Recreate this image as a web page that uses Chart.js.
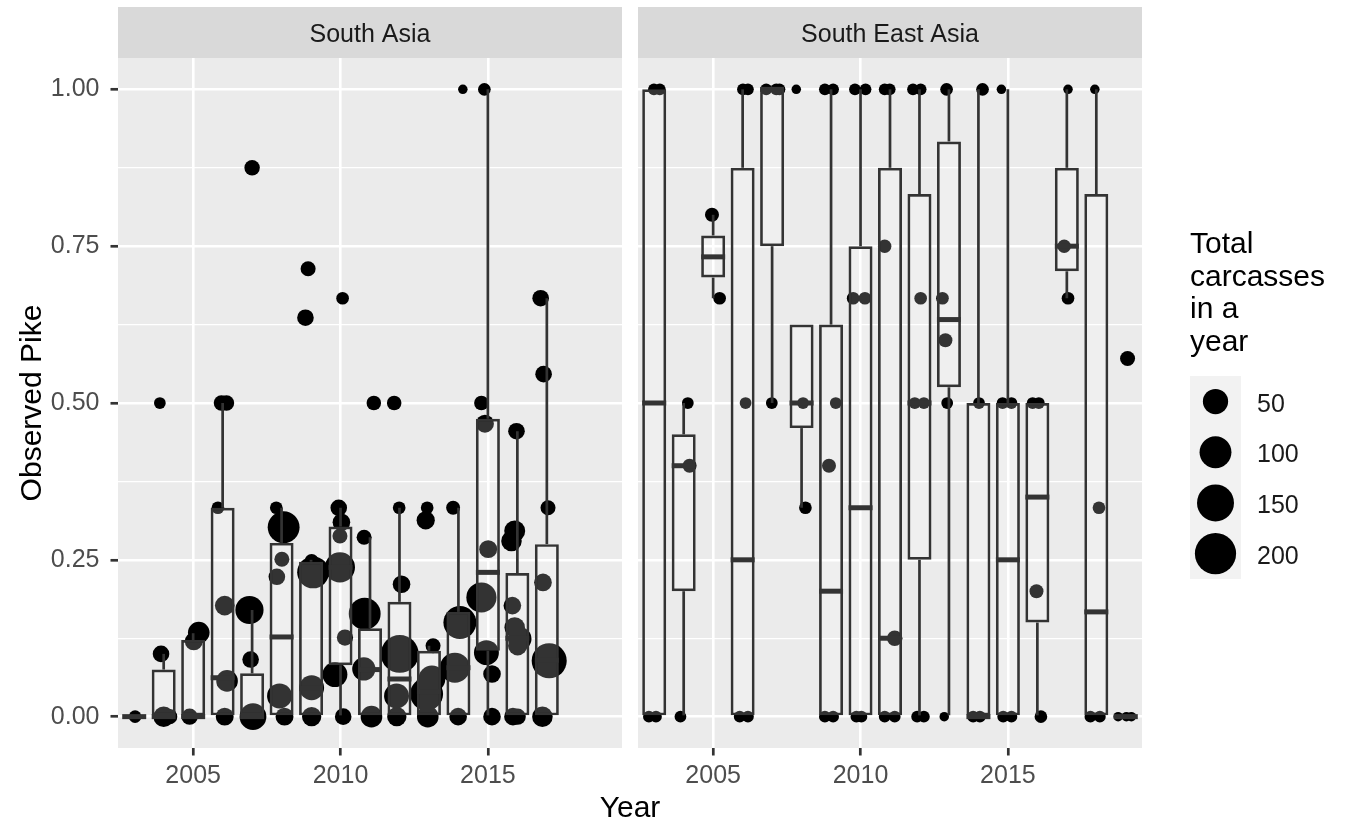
<!DOCTYPE html>
<html>
<head>
<meta charset="utf-8">
<script src="https://cdn.jsdelivr.net/npm/chart.js@4.4.1/dist/chart.umd.min.js"></script>
<style>
  body { margin: 0; background: #ffffff; }
  #wrap { position: relative; width: 1354px; height: 825px; }
  canvas { position: absolute; left: 0; top: 0; }
</style>
</head>
<body>
<div id="wrap">
  <canvas id="chartSouth" width="1354" height="825"></canvas>
  <canvas id="chartSouthEast" width="1354" height="825"></canvas>
</div>
<script>
// axis ticks
const yearTicks = [2005, 2010, 2015];
const valueTicks = [0, 0.25, 0.5, 0.75, 1];
const minorTicks = [0.125, 0.375, 0.625, 0.875];

// South Asia boxes
const saYears = [2003, 2004, 2005, 2006, 2007, 2008, 2009, 2010, 2011, 2012, 2013, 2014, 2015, 2016, 2017];
const saLower = [0, 0, 0, 0, 0, 0, 0, 0, 0, 0, 0, 0, 0, 0, 0];
const saQ1 = [0, 0, 0, 0, 0, 0, 0, 0.082, 0, 0, 0, 0, 0.105, 0, 0];
const saMedian = [0, 0, 0, 0.062, 0, 0.127, 0.045, 0.238, 0.075, 0.06, 0.04, 0.078, 0.23, 0.125, 0.09];
const saQ3 = [0, 0.075, 0.122, 0.333, 0.069, 0.277, 0.247, 0.303, 0.141, 0.183, 0.105, 0.167, 0.475, 0.229, 0.275];
const saUpper = [0, 0.1, 0.133, 0.5, 0.17, 0.333, 0.25, 0.333, 0.286, 0.333, 0.113, 0.333, 1, 0.455, 0.667];

// South Asia points (jittered year, value, total carcasses)
const saPointYear = [
  2003.03,
  2003.87, 2003.91, 2004.0, 2004.2,
  2004.88, 2005.02, 2005.19,
  2005.84, 2005.96, 2006.13, 2006.07, 2006.15, 2006.07,
  2007.0, 2006.91, 2006.95, 2007.03,
  2007.82, 2008.07, 2008.01, 2007.84, 2007.93, 2008.10,
  2008.90, 2008.81, 2009.02, 2009.07, 2009.02, 2009.02,
  2010.07, 2009.94, 2010.03, 2009.98, 2009.98, 2010.15, 2009.81, 2010.09,
  2011.13, 2010.80, 2010.82, 2010.79, 2011.05,
  2011.82, 2011.99, 2012.07, 2012.01, 2011.90, 2011.91,
  2012.94, 2012.89, 2013.14, 2012.92, 2013.10, 2012.96,
  2014.15, 2013.82, 2014.05, 2013.88, 2013.99,
  2014.88, 2014.78, 2014.90, 2015.01, 2014.78, 2014.95, 2015.14, 2015.14,
  2015.97, 2015.91, 2015.80, 2015.83, 2015.91, 2016.08, 2016.01, 2015.85, 2016.01,
  2016.79, 2016.89, 2017.04, 2016.87, 2017.08, 2016.85
];
const saPointValue = [
  0,
  0.5, 0.1, 0, 0,
  0, 0.12, 0.134,
  0.333, 0.5, 0.5, 0.177, 0.057, 0,
  0.875, 0.17, 0.091, 0,
  0.333, 0.302, 0.251, 0.223, 0.033, 0,
  0.714, 0.636, 0.248, 0.23, 0.046, 0,
  0.667, 0.333, 0.31, 0.288, 0.238, 0.126, 0.067, 0,
  0.5, 0.286, 0.164, 0.076, 0,
  0.5, 0.333, 0.211, 0.1, 0.033, 0,
  0.333, 0.313, 0.113, 0.036, 0.06, 0,
  1, 0.333, 0.15, 0.078, 0,
  1, 0.5, 0.467, 0.267, 0.19, 0.102, 0.068, 0,
  0.455, 0.296, 0.28, 0.177, 0.142, 0.124, 0.113, 0, 0,
  0.667, 0.546, 0.333, 0.214, 0.089, 0
];
const saPointTotal = [
  3,
  2, 11, 25, 8,
  10, 15, 30,
  3, 8, 8, 21, 30, 15,
  8, 70, 11, 60,
  3, 100, 7, 11, 48, 15,
  7, 11, 5, 100, 48, 20,
  3, 11, 14, 7, 85, 10, 48, 11,
  6, 7, 100, 38, 30,
  6, 3, 14, 160, 48, 20,
  3, 16, 7, 110, 60, 30,
  1, 5, 110, 85, 14,
  3, 6, 15, 15, 85, 48, 14, 14,
  11, 27, 25, 14, 25, 40, 20, 14, 10,
  11, 11, 7, 14, 130, 25
];

// South East Asia boxes
const seaYears = [2003, 2004, 2005, 2006, 2007, 2008, 2009, 2010, 2011, 2012, 2013, 2014, 2015, 2016, 2017, 2018, 2019];
const seaLower = [0, 0, 0.667, 0, 0.5, 0.333, 0, 0, 0, 0, 0, 0, 0, 0, 0.667, 0, 0];
const seaQ1 = [0, 0.2, 0.7, 0, 0.75, 0.46, 0, 0, 0, 0.25, 0.525, 0, 0, 0.15, 0.71, 0, 0];
const seaMedian = [0.5, 0.4, 0.733, 0.25, 1, 0.5, 0.2, 0.333, 0.125, 0.5, 0.633, 0, 0.25, 0.35, 0.75, 0.167, 0];
const seaQ3 = [1, 0.45, 0.767, 0.875, 1, 0.625, 0.625, 0.75, 0.875, 0.833, 0.917, 0.5, 0.5, 0.5, 0.875, 0.833, 0];
const seaUpper = [1, 0.5, 0.8, 1, 1, 0.625, 1, 1, 1, 1, 1, 1, 1, 0.5, 1, 1, 0];

// South East Asia points
const seaPointYear = [
  2002.99, 2003.19, 2002.82, 2003.06,
  2004.14, 2004.20, 2003.89,
  2004.96, 2005.22,
  2006.01, 2006.18, 2006.10, 2005.90, 2006.18,
  2006.80, 2007.14, 2007.25, 2006.99,
  2007.82, 2008.05, 2008.13,
  2008.79, 2009.07, 2009.16, 2008.93, 2008.79, 2009.07,
  2009.81, 2010.17, 2009.75, 2010.15, 2009.86, 2010.03,
  2010.82, 2010.99, 2010.82, 2011.16, 2010.82, 2011.16,
  2011.78, 2012.04, 2012.04, 2011.84, 2012.15, 2011.92, 2012.15,
  2012.92, 2012.78, 2012.88, 2012.94, 2012.84,
  2014.14, 2014.02, 2013.82, 2014.05,
  2014.78, 2014.82, 2015.12, 2014.84, 2015.12,
  2015.84, 2016.05, 2015.97, 2016.12,
  2017.04, 2016.91, 2017.04,
  2017.95, 2018.09, 2017.80, 2018.12,
  2019.06, 2018.74, 2019.02, 2019.19
];
const seaPointValue = [
  1, 1, 0, 0,
  0.5, 0.4, 0,
  0.8, 0.667,
  1, 1, 0.5, 0, 0,
  1, 1, 1, 0.5,
  1, 0.5, 0.333,
  1, 1, 0.5, 0.4, 0, 0,
  1, 1, 0.667, 0.667, 0, 0,
  1, 1, 0.75, 0.125, 0, 0,
  1, 1, 0.667, 0.5, 0.5, 0, 0,
  1, 0.667, 0.6, 0.5, 0,
  1, 0.5, 0, 0,
  1, 0.5, 0.5, 0, 0,
  0.5, 0.5, 0.2, 0,
  1, 0.75, 0.667,
  1, 0.333, 0, 0,
  0.571, 0, 0, 0
];
const seaPointTotal = [
  2, 2, 2, 2,
  2, 5, 2,
  5, 3,
  2, 2, 2, 2, 2,
  2, 2, 2, 2,
  1, 2, 3,
  2, 2, 2, 5, 2, 2,
  2, 2, 3, 3, 2, 2,
  2, 2, 4, 8, 2, 2,
  2, 2, 3, 2, 2, 2, 2,
  3, 3, 5, 2, 1,
  3, 2, 2, 2,
  1, 2, 2, 2, 2,
  2, 2, 5, 3,
  1, 4, 3,
  1, 3, 2, 2,
  7, 1, 1, 1
];

// legend
const legendTitle = ["Total", "carcasses", "in a", "year"];
const legendTotals = [50, 100, 150, 200];

const FONT = '"Liberation Sans", Arial, Helvetica, sans-serif';
const DARK = "#333333";

// size scale: point diameter grows with sqrt of the total
function radiusFor(n) {
    return (9.5 + 2.25 * Math.sqrt(Math.max(n - 1, 0))) / 2;
}

function buildDatasets(years, lower, q1, median, q3, upper, px, py, pn) {
    return [
        {
            type: "scatter",
            data: px.map((x, i) => ({ x: x, y: py[i], n: pn[i] })),
            pointRadius: ctx => radiusFor(ctx.raw.n),
            pointBackgroundColor: "#000000",
            pointBorderWidth: 0,
            order: 4
        },
        {
            type: "bar",
            data: years.map((x, i) => ({ x: x, y: [q3[i], upper[i]] })),
            backgroundColor: DARK,
            borderWidth: 0,
            barThickness: 2.7,
            grouped: false,
            inflateAmount: 0,
            order: 3
        },
        {
            type: "bar",
            data: years.map((x, i) => ({ x: x, y: [lower[i], q1[i]] })),
            backgroundColor: DARK,
            borderWidth: 0,
            barThickness: 2.7,
            grouped: false,
            inflateAmount: 0,
            order: 3
        },
        {
            type: "bar",
            data: years.map((x, i) => ({ x: x, y: [q1[i], q3[i]] })),
            backgroundColor: "rgba(255,255,255,0.2)",
            borderColor: DARK,
            borderWidth: 2.7,
            borderSkipped: false,
            barThickness: 24,
            grouped: false,
            inflateAmount: 0,
            order: 2
        },
        {
            type: "scatter",
            data: years.map((x, i) => ({ x: x, y: median[i] })),
            pointStyle: "line",
            pointRadius: 12,
            pointBorderWidth: 5,
            pointBorderColor: DARK,
            order: 1
        }
    ];
}

const panelPlugin = {
    id: "panel",
    beforeDraw(chart, args, opts) {
        const { ctx, chartArea: a } = chart;
        ctx.save();
        ctx.fillStyle = "#EBEBEB";
        ctx.fillRect(a.left, a.top, a.right - a.left, a.bottom - a.top);
        ctx.fillStyle = "#D9D9D9";
        ctx.fillRect(a.left, 7, a.right - a.left, a.top - 7);
        ctx.fillStyle = "#1A1A1A";
        ctx.font = "25px " + FONT;
        ctx.textAlign = "center";
        ctx.textBaseline = "alphabetic";
        ctx.fillText(opts.strip, (a.left + a.right) / 2, 42);
        ctx.restore();
    }
};

const titlePlugin = {
    id: "titles",
    afterDraw(chart) {
        const ctx = chart.ctx;
        const a = chart.chartArea;
        ctx.save();
        ctx.fillStyle = "#000000";
        ctx.font = "30px " + FONT;
        ctx.textAlign = "center";
        ctx.textBaseline = "alphabetic";
        ctx.fillText("Year", 630, 817);
        ctx.translate(41, (a.top + a.bottom) / 2);
        ctx.rotate(-Math.PI / 2);
        ctx.fillText("Observed Pike", 0, 0);
        ctx.restore();
    }
};

const legendPlugin = {
    id: "sizeLegend",
    afterDraw(chart) {
        const ctx = chart.ctx;
        ctx.save();
        ctx.fillStyle = "#000000";
        ctx.font = "30px " + FONT;
        ctx.textAlign = "left";
        ctx.textBaseline = "alphabetic";
        legendTitle.forEach((line, i) => ctx.fillText(line, 1190, 253 + i * 32.5));
        ctx.fillStyle = "#F2F2F2";
        ctx.fillRect(1190, 376, 51, 203);
        ctx.font = "25px " + FONT;
        legendTotals.forEach((n, i) => {
            const cy = 401.5 + i * 50.7;
            ctx.fillStyle = "#000000";
            ctx.beginPath();
            ctx.arc(1215.5, cy, radiusFor(n), 0, Math.PI * 2);
            ctx.fill();
            ctx.fillStyle = "#1A1A1A";
            ctx.fillText(String(n), 1257, cy + 10);
        });
        ctx.restore();
    }
};

function xScale() {
    return {
        type: "linear",
        min: 2002.45,
        max: 2019.55,
        offset: false,
        afterBuildTicks: s => { s.ticks = yearTicks.map(v => ({ value: v })); },
        afterFit: s => { s.height = 77; },
        ticks: {
            autoSkip: false,
            maxRotation: 0,
            padding: 6,
            color: "#4D4D4D",
            font: { size: 25, family: FONT },
            callback: v => String(v)
        },
        grid: { color: "#FFFFFF", lineWidth: 2.6, offset: false, tickLength: 7.5, tickWidth: 2.7, tickColor: DARK },
        border: { display: false }
    };
}

function yScale(showTicks) {
    return {
        type: "linear",
        min: -0.05,
        max: 1.05,
        afterBuildTicks: s => {
            s.ticks = valueTicks.concat(minorTicks).sort((p, q) => p - q).map(v => ({ value: v }));
        },
        afterFit: s => { s.width = showTicks ? 118 : 5; },
        ticks: {
            display: showTicks,
            autoSkip: false,
            padding: 11,
            color: "#4D4D4D",
            font: { size: 25, family: FONT },
            callback: v => valueTicks.includes(v) ? v.toFixed(2) : ""
        },
        grid: {
            color: "#FFFFFF",
            lineWidth: ctx => minorTicks.includes(ctx.tick.value) ? 1.3 : 2.6,
            drawTicks: showTicks,
            tickLength: 7.5,
            tickWidth: 2.7,
            tickColor: ctx => minorTicks.includes(ctx.tick.value) ? "rgba(0,0,0,0)" : DARK
        },
        border: { display: false }
    };
}

new Chart(document.getElementById("chartSouth"), {
    type: "scatter",
    data: {
        datasets: buildDatasets(saYears, saLower, saQ1, saMedian, saQ3, saUpper,
            saPointYear, saPointValue, saPointTotal)
    },
    options: {
        responsive: false,
        animation: false,
        events: [],
        layout: { padding: { top: 58, right: 732, left: 0, bottom: 0 } },
        plugins: { legend: { display: false }, tooltip: { enabled: false }, panel: { strip: "South Asia" } },
        scales: { x: xScale(), y: yScale(true) }
    },
    plugins: [panelPlugin, titlePlugin]
});

new Chart(document.getElementById("chartSouthEast"), {
    type: "scatter",
    data: {
        datasets: buildDatasets(seaYears, seaLower, seaQ1, seaMedian, seaQ3, seaUpper,
            seaPointYear, seaPointValue, seaPointTotal)
    },
    options: {
        responsive: false,
        animation: false,
        events: [],
        layout: { padding: { top: 58, right: 212, left: 633, bottom: 0 } },
        plugins: { legend: { display: false }, tooltip: { enabled: false }, panel: { strip: "South East Asia" } },
        scales: { x: xScale(), y: yScale(false) }
    },
    plugins: [panelPlugin, legendPlugin]
});
</script>
</body>
</html>
